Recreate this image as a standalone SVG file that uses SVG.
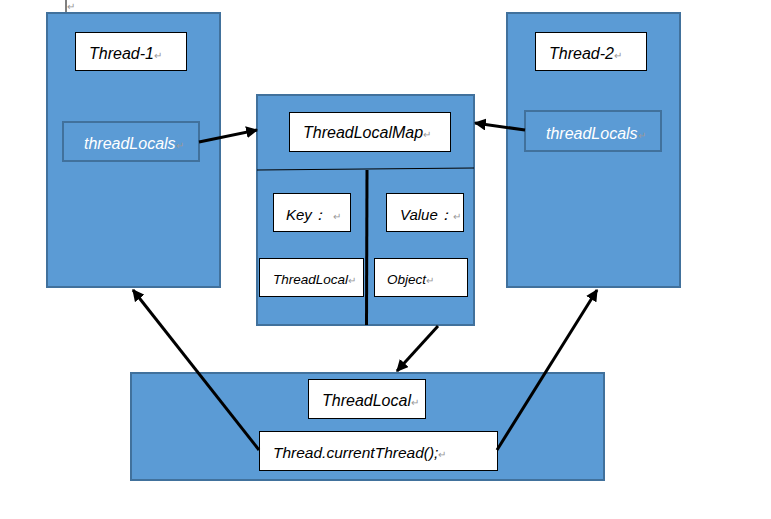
<svg xmlns="http://www.w3.org/2000/svg" width="771" height="519" viewBox="0 0 771 519">
<style>
.big{fill:#5b9bd5;stroke:#41719c;stroke-width:2}
.lbl{fill:#fff;stroke:#000;stroke-width:1}
.inner{fill:#5b9bd5;stroke:#41719c;stroke-width:2}
text{font-family:"Liberation Sans",Arial,sans-serif;font-style:italic;fill:#000}
.w{fill:#fff}
.rm{fill:#999;font-style:normal;font-size:10px}
.conn{stroke:#000;stroke-width:3;fill:none;marker-end:url(#ah)}
</style>
<defs>
<marker id="ah" viewBox="0 0 10 10" refX="9" refY="5" markerWidth="4" markerHeight="4" orient="auto" markerUnits="strokeWidth">
<path d="M0,0 L10,5 L0,10 Z" fill="#000"/>
</marker>
</defs>
<rect width="771" height="519" fill="#fff"/>
<g id="cursor">
<line x1="66" y1="0" x2="66" y2="12" stroke="#000" stroke-width="1"/>
<line x1="66" y1="12" x2="66" y2="17" stroke="#c55a11" stroke-width="1"/>
<text x="67" y="10" class="rm">↵</text>
</g>
<g id="thread1">
<rect class="big" x="47" y="13" width="173" height="274"/>
<rect class="lbl" x="75.5" y="32.5" width="111" height="38"/>
<text x="89" y="59" font-size="16">Thread-1<tspan class="rm">↵</tspan></text>
<rect class="inner" x="63" y="122" width="136" height="39"/>
<text x="84" y="149" font-size="16" class="w">threadLocals<tspan class="rm">↵</tspan></text>
</g>
<g id="thread2">
<rect class="big" x="507" y="13" width="173" height="274"/>
<rect class="lbl" x="535.5" y="32.5" width="111" height="38"/>
<text x="549" y="59" font-size="16">Thread-2<tspan class="rm">↵</tspan></text>
<rect class="inner" x="525" y="111" width="136" height="40"/>
<text x="546" y="139" font-size="16" class="w">threadLocals<tspan class="rm">↵</tspan></text>
</g>
<g id="map">
<rect class="big" x="257" y="95" width="217" height="230"/>
<rect class="lbl" x="289.5" y="112.5" width="161" height="39"/>
<text x="303" y="138" font-size="16">ThreadLocalMap<tspan class="rm">↵</tspan></text>
<line x1="257" y1="170" x2="474" y2="168" stroke="#000" stroke-width="1"/>
<line x1="367" y1="170" x2="366.5" y2="325" stroke="#000" stroke-width="3"/>
<rect class="lbl" x="273.5" y="193.5" width="77" height="38"/>
<text x="286" y="220" font-size="15">Key：<tspan class="rm" dx="6">↵</tspan></text>
<rect class="lbl" x="386.5" y="193.5" width="77" height="38"/>
<text x="400" y="220" font-size="15">Value：<tspan class="rm">↵</tspan></text>
<rect class="lbl" x="259.5" y="258.5" width="104" height="38"/>
<text x="273" y="284" font-size="13.5">ThreadLocal<tspan class="rm">↵</tspan></text>
<rect class="lbl" x="374.5" y="258.5" width="93" height="38"/>
<text x="387" y="284" font-size="13.5">Object<tspan class="rm">↵</tspan></text>
</g>
<g id="bottom">
<rect class="big" x="131" y="373" width="473" height="107"/>
<rect class="lbl" x="308.5" y="379.5" width="117" height="39"/>
<text x="322" y="406" font-size="16">ThreadLocal<tspan class="rm">↵</tspan></text>
<rect class="lbl" x="259.5" y="431.5" width="238" height="39"/>
<text x="273" y="458" font-size="15.5">Thread.currentThread();<tspan class="rm">↵</tspan></text>
</g>
<g id="connectors">
<line class="conn" x1="199" y1="142" x2="257" y2="130"/>
<line class="conn" x1="525" y1="130" x2="475" y2="123"/>
<line class="conn" x1="438" y1="326" x2="397" y2="371"/>
<line class="conn" x1="259" y1="450" x2="133" y2="290"/>
<line class="conn" x1="497" y1="450" x2="597" y2="290"/>
</g>
</svg>
